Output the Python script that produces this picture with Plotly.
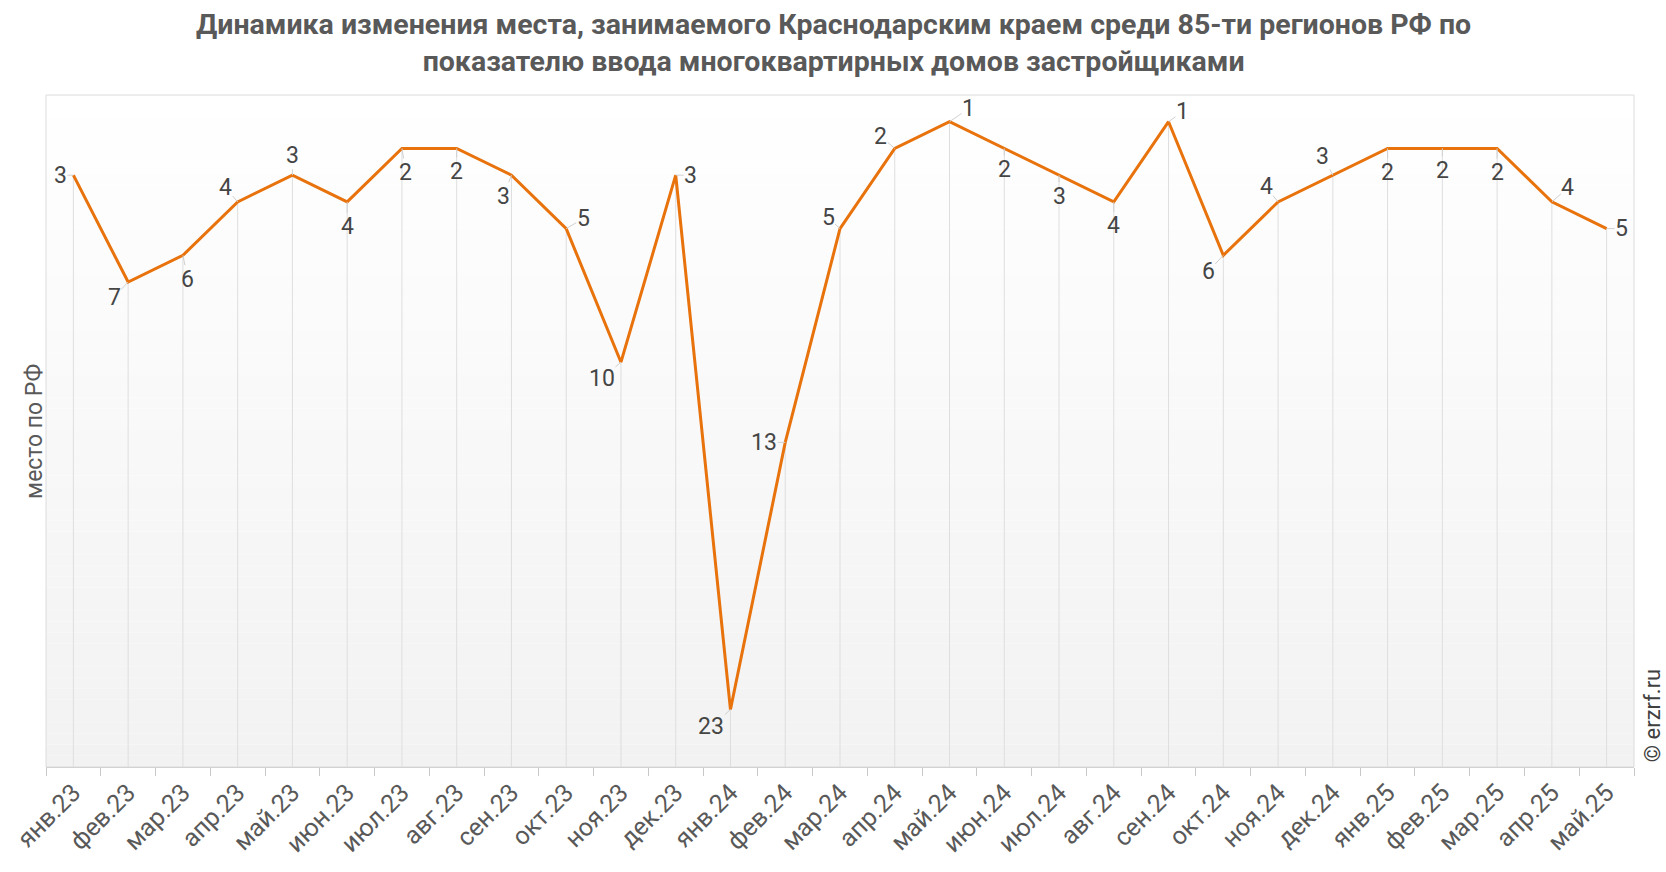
import plotly.graph_objects as go

months = ["янв.23", "фев.23", "мар.23", "апр.23", "май.23", "июн.23", "июл.23", "авг.23",
          "сен.23", "окт.23", "ноя.23", "дек.23", "янв.24", "фев.24", "мар.24", "апр.24",
          "май.24", "июн.24", "июл.24", "авг.24", "сен.24", "окт.24", "ноя.24", "дек.24",
          "янв.25", "фев.25", "мар.25", "апр.25", "май.25"]
rank = [3, 7, 6, 4, 3, 4, 2, 2, 3, 5, 10, 3, 23, 13, 5, 2, 1, 2, 3, 4, 1, 6, 4, 3, 2, 2, 2, 4, 5]

# label placement offsets (pixels) for each point's label
label_offsets = [(-13, 0), (-14, 15), (5, 24), (-12, -14), (0, -20), (0, 25), (4, 24), (0, 23),
                 (-8, 21), (17, -10), (-19, 16), (15, 0), (-19, 17), (-21, 0), (-12, -11),
                 (-14, -12), (19, -13), (0, 21), (0, 21), (0, 24), (14, -10), (-15, 16),
                 (-12, -15), (-10, -19), (0, 24), (0, 22), (0, 24), (16, -14), (15, 0)]

Y_BOTTOM = 25.15
xs = list(range(len(months)))

fig = go.Figure()

# drop lines from each point down to the axis
dx, dy = [], []
for i, v in zip(xs, rank):
    dx += [i, i, None]
    dy += [v, Y_BOTTOM, None]
fig.add_trace(go.Scatter(x=dx, y=dy, mode="lines", line=dict(color="#dedede", width=1),
                         hoverinfo="skip", showlegend=False))

fig.add_trace(go.Scatter(x=xs, y=rank, mode="lines", line=dict(color="#E8720C", width=3),
                         showlegend=False, name="место"))

# gradient background bands
shapes = []
nb = 60
for k in range(nb):
    t = (k + 0.5) / nb  # 0 at bottom, 1 at top
    c0, c1 = 242, 255
    c = round(c0 + (c1 - c0) * t)
    shapes.append(dict(type="rect", xref="paper", yref="paper", x0=0, x1=1,
                       y0=k / nb, y1=(k + 1) / nb, fillcolor=f"rgb({c},{c},{c})",
                       line=dict(width=0), layer="below"))
shapes.append(dict(type="rect", xref="paper", yref="paper", x0=0, x1=1, y0=0, y1=1,
                   line=dict(color="#dcdcdc", width=1), layer="above"))

annotations = []
for i, v, (ox, oy) in zip(xs, rank, label_offsets):
    annotations.append(dict(x=i, y=v, xref="x", yref="y", text=str(v), showarrow=True,
                            arrowhead=0, arrowwidth=1, arrowcolor="#d0d0d0", ax=ox, ay=oy,
                            font=dict(family="Roboto", size=23, color="#454545"),
                            borderpad=0))
annotations.append(dict(xref="paper", yref="paper", x=-0.0076, y=0.5, text="место по РФ",
                        textangle=-90, showarrow=False, xanchor="center", yanchor="middle",
                        font=dict(family="Roboto", size=23, color="#595959")))
annotations.append(dict(xref="paper", yref="paper", x=1.0113, y=0.077, text="© erzrf.ru",
                        textangle=-90, showarrow=False, xanchor="center", yanchor="middle",
                        font=dict(family="Roboto", size=22, color="#404040")))
annotations.append(dict(xref="paper", yref="paper", x=0.4956, y=1.133, xanchor="center", yanchor="top",
                        showarrow=False,
                        text="<b>Динамика изменения места, занимаемого Краснодарским краем среди 85-ти регионов РФ по<br>показателю ввода многоквартирных домов застройщиками</b>",
                        font=dict(family="Roboto", size=28.5, color="#595959")))

fig.update_layout(
    width=1666, height=872,
    margin=dict(l=46, r=32, t=95, b=105),
    paper_bgcolor="white", plot_bgcolor="white",
    shapes=shapes, annotations=annotations,
    xaxis=dict(range=[-0.5, len(months) - 0.5], tickmode="array", tickvals=xs, ticktext=months,
               tickangle=-45, ticks="", showgrid=False, zeroline=False,
               showline=True, linecolor="#c8c8c8", linewidth=1,
               tickfont=dict(family="Roboto", size=25, color="#595959"),
               minor=dict(tickmode="array", tickvals=[i - 0.5 for i in range(len(months) + 1)],
                          ticks="outside", ticklen=8, tickcolor="#c8c8c8", tickwidth=1, showgrid=False)),
    yaxis=dict(range=[Y_BOTTOM, 0], showticklabels=False, showgrid=False, zeroline=False,
               ticks=""),
)

fig.write_html("out.html", config={"displayModeBar": False},
               post_script="document.body.style.margin='0';document.body.style.overflow='hidden';")
